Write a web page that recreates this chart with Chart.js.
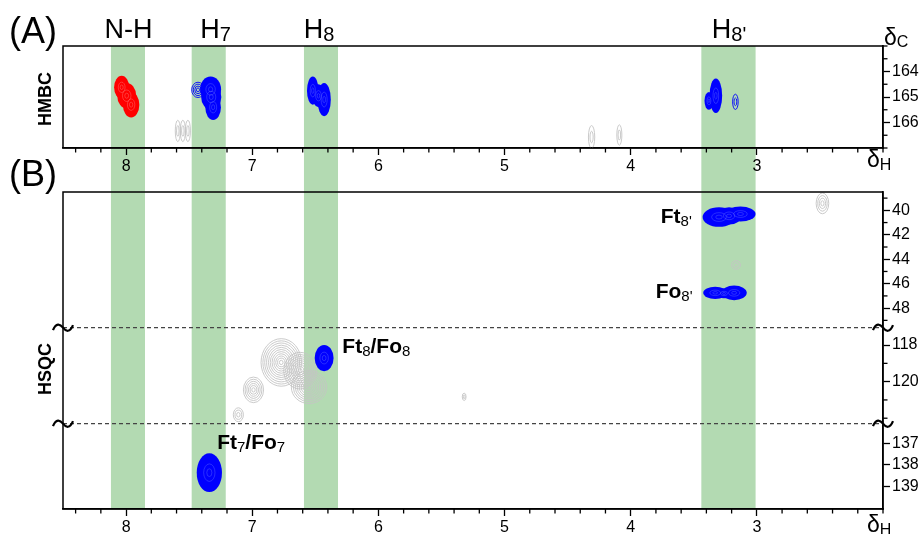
<!DOCTYPE html>
<html>
<head>
<meta charset="utf-8">
<script src="https://cdn.jsdelivr.net/npm/chart.js@4.4.1/dist/chart.umd.min.js"></script>
<style>
  body { margin: 0; background: #fff; }
  #wrap { position: relative; width: 921px; height: 534px; }
  #wrap canvas { position: absolute; left: 0; top: 0; }
</style>
</head>
<body>
<div id="wrap">
  <canvas id="hmbc" width="921" height="534"></canvas>
  <canvas id="hsqc" width="921" height="534"></canvas>
</div>
<script>
const FONT = '"Liberation Sans", Arial, sans-serif';

// proton axis (ppm), drawn high -> low
const hMin = 2.0;
const hMax = 8.5;
const hTicks = [8, 7, 6, 5, 4, 3];

// highlighted proton columns [from, to] and their labels
const bandRanges = [[8.12, 7.85], [7.48, 7.21], [6.59, 6.32], [3.44, 3.01]];
const bandNames = ["N-H", "H", "H", "H"];
const bandSubs = ["", "7", "8", "8'"];
const bandLabelPpm = [7.98, 7.29, 6.47, 3.22];

// carbon axes
const hmbcTicks = [164, 165, 166];
const hsqcTopTicks = [40, 42, 44, 46, 48];
const hsqcMidTicks = [118, 120];
const hsqcBotTicks = [137, 138, 139];

// cross peaks: x = dH, y = dC, wx / wy = half widths in ppm
const hmbcNH = [
  { x: 8.035, y: 164.62, wx: 0.06, wy: 0.45 },
  { x: 7.995, y: 164.95, wx: 0.075, wy: 0.5 },
  { x: 7.96, y: 165.3, wx: 0.065, wy: 0.5 }
];
const hmbcH7 = [
  { x: 7.33, y: 164.7, wx: 0.083, wy: 0.5 },
  { x: 7.325, y: 165.0, wx: 0.08, wy: 0.5 },
  { x: 7.31, y: 165.4, wx: 0.062, wy: 0.5 }
];
const hmbcH7side = [{ x: 7.43, y: 164.72, wx: 0.05, wy: 0.3 }];
const hmbcH8 = [
  { x: 6.52, y: 164.75, wx: 0.046, wy: 0.55 },
  { x: 6.475, y: 164.95, wx: 0.05, wy: 0.45 },
  { x: 6.43, y: 165.1, wx: 0.053, wy: 0.65 }
];
const hmbcH8p = [{ x: 3.38, y: 165.15, wx: 0.035, wy: 0.35 }, { x: 3.325, y: 164.95, wx: 0.05, wy: 0.68 }];
const hmbcH8pSmall = [{ x: 3.17, y: 165.19, wx: 0.022, wy: 0.30 }];
const hmbcOther = [
  { x: 7.59, y: 166.33, wx: 0.02, wy: 0.42 }, { x: 7.55, y: 166.33, wx: 0.02, wy: 0.42 },
  { x: 7.51, y: 166.33, wx: 0.02, wy: 0.42 }, { x: 4.31, y: 166.57, wx: 0.025, wy: 0.45 },
  { x: 4.09, y: 166.49, wx: 0.02, wy: 0.40 }
];

const hsqcFt8p = [
  { x: 3.30, y: 40.55, wx: 0.13, wy: 0.8 },
  { x: 3.22, y: 40.45, wx: 0.1, wy: 0.7 },
  { x: 3.13, y: 40.3, wx: 0.12, wy: 0.62 }
];
const hsqcFo8p = [
  { x: 3.33, y: 46.75, wx: 0.095, wy: 0.5 },
  { x: 3.26, y: 46.8, wx: 0.06, wy: 0.4 },
  { x: 3.18, y: 46.75, wx: 0.1, wy: 0.6 }
];
const hsqcTopOther = [{ x: 3.165, y: 44.47, wx: 0.035, wy: 0.35 }, { x: 2.48, y: 39.43, wx: 0.05, wy: 0.85 }];
const hsqcFt8 = [{ x: 6.43, y: 118.71, wx: 0.075, wy: 0.72 }];
const hsqcMidOther = [
  { x: 6.77, y: 118.95, wx: 0.16, wy: 1.3 }, { x: 6.62, y: 119.4, wx: 0.13, wy: 1.0 },
  { x: 6.55, y: 120.3, wx: 0.14, wy: 0.9 }, { x: 6.99, y: 120.45, wx: 0.08, wy: 0.70 },
  { x: 7.11, y: 121.81, wx: 0.04, wy: 0.38 }, { x: 5.32, y: 120.83, wx: 0.015, wy: 0.20 }
];
const hsqcFt7 = [{ x: 7.34, y: 138.37, wx: 0.10, wy: 0.91 }];

const RED = "#ff0000";
const BLUE = "#0000ff";
const GRAY = "#c4c4c4";
const GREEN = "rgb(179, 218, 178)";
const BLUE_LIGHT = "rgba(120, 135, 255, 0.55)";
const RED_LIGHT = "rgba(255, 160, 160, 0.55)";

function peakSet(label, data, yAxisID, style, color, light) {
  return {
    label: label, data: data, xAxisID: "x", yAxisID: yAxisID,
    pointRadius: 0, pointHoverRadius: 0,
    peakStyle: style, peakColor: color, peakLight: light
  };
}

function ellipsePath(ctx, cx, cy, rx, ry) {
  ctx.beginPath();
  ctx.ellipse(cx, cy, Math.max(rx, 0.5), Math.max(ry, 0.5), 0, 0, Math.PI * 2);
}

const peakPlugin = {
  id: "peaks",
  afterDatasetsDraw(chart) {
    const ctx = chart.ctx;
    chart.data.datasets.forEach((ds, i) => {
      const meta = chart.getDatasetMeta(i);
      const xs = meta.xScale;
      const ys = meta.yScale;
      ctx.save();
      ctx.beginPath();
      ctx.rect(xs.left, ys.top, xs.right - xs.left, ys.bottom - ys.top);
      ctx.clip();
      const lobes = ds.data.map(p => {
        const cx = xs.getPixelForValue(p.x);
        const cy = ys.getPixelForValue(p.y);
        return {
          cx: cx, cy: cy,
          rx: Math.abs(xs.getPixelForValue(p.x + p.wx) - cx),
          ry: Math.abs(ys.getPixelForValue(p.y + p.wy) - cy)
        };
      });
      if (ds.peakStyle === "fill") {
        ctx.fillStyle = ds.peakColor;
        lobes.forEach(l => { ellipsePath(ctx, l.cx, l.cy, l.rx, l.ry); ctx.fill(); });
        ctx.strokeStyle = ds.peakLight;
        ctx.lineWidth = 0.6;
        lobes.forEach(l => {
          [0.45, 0.2].forEach(k => { ellipsePath(ctx, l.cx, l.cy, l.rx * k, l.ry * k); ctx.stroke(); });
        });
      } else {
        ctx.strokeStyle = ds.peakColor;
        ctx.lineWidth = 0.9;
        lobes.forEach(l => {
          const n = Math.max(2, Math.round(Math.min(l.rx, l.ry) / 1.8));
          for (let k = 0; k < n; k++) {
            const f = 1 - k / n;
            ellipsePath(ctx, l.cx, l.cy, l.rx * f, l.ry * f);
            ctx.stroke();
          }
        });
      }
      ctx.restore();
    });
  }
};

const minorTickPlugin = {
  id: "minorTicks",
  afterDraw(chart, args, opts) {
    const ctx = chart.ctx;
    ctx.save();
    ctx.strokeStyle = "#000";
    ctx.lineWidth = 1.3;
    Object.values(chart.scales).forEach(s => {
      const step = opts.steps[s.id];
      if (!step) return;
      const lo = Math.min(s.min, s.max);
      const hi = Math.max(s.min, s.max);
      const majors = s.ticks.map(t => t.value);
      for (let k = Math.ceil(lo / step - 1e-9); k * step <= hi + 1e-9; k++) {
        const v = Math.round(k * step * 1000) / 1000;
        if (majors.some(m => Math.abs(m - v) < 1e-6)) continue;
        const p = s.getPixelForValue(v);
        ctx.beginPath();
        if (s.isHorizontal()) {
          ctx.moveTo(p, s.top);
          ctx.lineTo(p, s.top + 4.5);
        } else {
          ctx.moveTo(s.left, p);
          ctx.lineTo(s.left + 4.5, p);
        }
        ctx.stroke();
      }
    });
    ctx.restore();
  }
};

function bandPlugin(bottomOverride) {
  return {
    id: "bands",
    beforeDraw(chart) {
      const ctx = chart.ctx;
      const xs = chart.scales.x;
      const a = chart.chartArea;
      const bottom = bottomOverride || a.bottom;
      ctx.save();
      ctx.fillStyle = GREEN;
      bandRanges.forEach(r => {
        const x1 = xs.getPixelForValue(r[0]);
        const x2 = xs.getPixelForValue(r[1]);
        ctx.fillRect(Math.min(x1, x2), a.top, Math.abs(x2 - x1), bottom - a.top);
      });
      ctx.restore();
    }
  };
}

const framePlugin = {
  id: "frame",
  afterDraw(chart) {
    const a = chart.chartArea;
    const ctx = chart.ctx;
    ctx.save();
    ctx.strokeStyle = "#000";
    ctx.lineWidth = 1.5;
    ctx.strokeRect(a.left, a.top, a.right - a.left, a.bottom - a.top);
    ctx.restore();
  }
};

function drawRuns(ctx, runs, x, y, align) {
  let total = 0;
  runs.forEach(r => {
    ctx.font = (r.bold ? "bold " : "") + r.size + "px " + FONT;
    r.w = ctx.measureText(r.t).width;
    total += r.w;
  });
  let cx = align === "center" ? x - total / 2 : (align === "right" ? x - total : x);
  ctx.textAlign = "left";
  ctx.textBaseline = "alphabetic";
  runs.forEach(r => {
    ctx.font = (r.bold ? "bold " : "") + r.size + "px " + FONT;
    ctx.fillText(r.t, cx, y + (r.dy || 0));
    cx += r.w;
  });
}

function drawRotated(ctx, text, x, y) {
  ctx.save();
  ctx.translate(x, y);
  ctx.rotate(-Math.PI / 2);
  ctx.font = "bold 18px " + FONT;
  ctx.textAlign = "center";
  ctx.textBaseline = "middle";
  ctx.fillText(text, 0, 0);
  ctx.restore();
}

const hmbcTextPlugin = {
  id: "hmbcText",
  afterDraw(chart) {
    const ctx = chart.ctx;
    const xs = chart.scales.x;
    ctx.save();
    ctx.fillStyle = "#000";
    drawRuns(ctx, [{ t: "(A)", size: 36 }], 9, 43, "left");
    drawRuns(ctx, [{ t: "(B)", size: 36 }], 9, 186, "left");
    bandNames.forEach((n, i) => {
      drawRuns(ctx, [{ t: n, size: 27 }, { t: bandSubs[i], size: 20, dy: 2.5 }],
        xs.getPixelForValue(bandLabelPpm[i]), 38, "center");
    });
    drawRuns(ctx, [{ t: "δ", size: 23 }, { t: "C", size: 16, dy: 2 }], 884, 45, "left");
    drawRuns(ctx, [{ t: "δ", size: 23 }, { t: "H", size: 16, dy: 3 }], 867, 167, "left");
    drawRotated(ctx, "HMBC", 46.5, 99);
    drawRotated(ctx, "HSQC", 46.5, 369);
    ctx.restore();
  }
};

// peak labels: text runs ([text, bold]) placed at dH / dC on one of the carbon scales
const hsqcLabels = [
  { runs: [["Ft", 1], ["8", 0], ["/Fo", 1], ["8", 0]], x: 6.286, y: 118.44, axis: "yMid" },
  { runs: [["Ft", 1], ["7", 0], ["/Fo", 1], ["7", 0]], x: 7.278, y: 137.27, axis: "yBot" },
  { runs: [["Ft", 1], ["8'", 0]], x: 3.762, y: 41.06, axis: "yTop" },
  { runs: [["Fo", 1], ["8'", 0]], x: 3.802, y: 47.16, axis: "yTop" }
];

function tilde(ctx, x, y) {
  ctx.beginPath();
  ctx.moveTo(x - 10, y + 2.5);
  ctx.bezierCurveTo(x - 7, y - 5, x - 3, y - 4, x, y);
  ctx.bezierCurveTo(x + 3, y + 4, x + 7, y + 5, x + 10, y - 2.5);
  ctx.stroke();
}

const hsqcTextPlugin = {
  id: "hsqcText",
  afterDraw(chart) {
    const ctx = chart.ctx;
    const xs = chart.scales.x;
    const a = chart.chartArea;
    ctx.save();
    const breaks = [chart.scales.yTop.bottom, chart.scales.yMid.bottom];
    ctx.strokeStyle = "#444";
    ctx.lineWidth = 1.2;
    ctx.setLineDash([4, 3]);
    breaks.forEach(b => {
      ctx.beginPath();
      ctx.moveTo(a.left, b);
      ctx.lineTo(a.right, b);
      ctx.stroke();
    });
    ctx.setLineDash([]);
    ctx.strokeStyle = "#000";
    ctx.lineWidth = 2.2;
    breaks.forEach(b => { tilde(ctx, a.left, b); tilde(ctx, a.right, b); });

    ctx.fillStyle = "#000";
    hsqcLabels.forEach(l => {
      const runs = l.runs.map(r => r[1] ? { t: r[0], size: 21, bold: true } : { t: r[0], size: 15, dy: 3 });
      drawRuns(ctx, runs, xs.getPixelForValue(l.x), chart.scales[l.axis].getPixelForValue(l.y), "left");
    });
    drawRuns(ctx, [{ t: "δ", size: 23 }, { t: "H", size: 16, dy: 3 }], 867, 532, "left");
    ctx.restore();
  }
};

function hAxis(height) {
  return {
    type: "linear", position: "bottom", reverse: true, min: hMin, max: hMax,
    afterBuildTicks: s => { s.ticks = hTicks.map(v => ({ value: v })); },
    afterFit: s => { s.height = height; },
    grid: { drawOnChartArea: false, tickLength: 7, tickColor: "#000", tickWidth: 1.3 },
    border: { color: "#000", width: 1.5 },
    ticks: { color: "#000", font: { family: FONT, size: 16 }, padding: 2, maxRotation: 0, autoSkip: false }
  };
}

function cAxis(min, max, ticks, extra) {
  return Object.assign({
    type: "linear", position: "right", reverse: true, min: min, max: max,
    afterBuildTicks: s => { s.ticks = ticks.map(v => ({ value: v })); },
    afterFit: s => { s.width = 38; },
    grid: { drawOnChartArea: false, tickLength: 7, tickColor: "#000", tickWidth: 1.3 },
    border: { color: "#000", width: 1.5 },
    ticks: { color: "#000", font: { family: FONT, size: 16 }, padding: 2, autoSkip: false }
  }, extra || {});
}

const baseOptions = {
  responsive: false,
  animation: false,
  events: [],
  devicePixelRatio: 1
};

new Chart(document.getElementById("hmbc"), {
  type: "scatter",
  data: {
    datasets: [
      peakSet("other", hmbcOther, "yC", "ring", GRAY),
      peakSet("N-H", hmbcNH, "yC", "fill", RED, RED_LIGHT),
      peakSet("H7", hmbcH7, "yC", "fill", BLUE, BLUE_LIGHT),
      peakSet("H7 side", hmbcH7side, "yC", "ring", BLUE),
      peakSet("H8", hmbcH8, "yC", "fill", BLUE, BLUE_LIGHT),
      peakSet("H8'", hmbcH8p, "yC", "fill", BLUE, BLUE_LIGHT),
      peakSet("H8' small", hmbcH8pSmall, "yC", "ring", BLUE)
    ]
  },
  options: Object.assign({}, baseOptions, {
    layout: { padding: { left: 63, top: 46, right: 0, bottom: 360 } },
    scales: { x: hAxis(26), yC: cAxis(163, 167, hmbcTicks) },
    plugins: {
      legend: { display: false },
      tooltip: { enabled: false },
      minorTicks: { steps: { x: 0.2, yC: 0.5 } }
    }
  }),
  plugins: [bandPlugin(192), peakPlugin, minorTickPlugin, framePlugin, hmbcTextPlugin]
});

new Chart(document.getElementById("hsqc"), {
  type: "scatter",
  data: {
    datasets: [
      peakSet("top other", hsqcTopOther, "yTop", "ring", GRAY),
      peakSet("mid other", hsqcMidOther, "yMid", "ring", GRAY),
      peakSet("Ft8'", hsqcFt8p, "yTop", "fill", BLUE, BLUE_LIGHT),
      peakSet("Fo8'", hsqcFo8p, "yTop", "fill", BLUE, BLUE_LIGHT),
      peakSet("Ft8/Fo8", hsqcFt8, "yMid", "fill", BLUE, BLUE_LIGHT),
      peakSet("Ft7/Fo7", hsqcFt7, "yBot", "fill", BLUE, BLUE_LIGHT)
    ]
  },
  options: Object.assign({}, baseOptions, {
    layout: { padding: { left: 63, top: 192, right: 0, bottom: 0 } },
    scales: {
      x: hAxis(25),
      yTop: cAxis(38.5, 49.6, hsqcTopTicks, { stack: "c", stackWeight: 135.7 }),
      yMid: cAxis(117.05, 122.3, hsqcMidTicks, { stack: "c", stackWeight: 96 }),
      yBot: cAxis(136.08, 140.07, hsqcBotTicks, { stack: "c", stackWeight: 85.3 })
    },
    plugins: {
      legend: { display: false },
      tooltip: { enabled: false },
      minorTicks: { steps: { x: 0.2, yTop: 1, yMid: 1 } }
    }
  }),
  plugins: [bandPlugin(null), peakPlugin, minorTickPlugin, framePlugin, hsqcTextPlugin]
});
</script>
</body>
</html>
